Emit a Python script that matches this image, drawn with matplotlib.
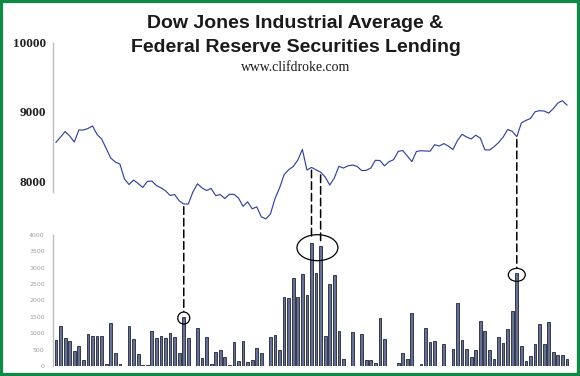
import matplotlib
matplotlib.use('Agg')
import matplotlib.pyplot as plt
import matplotlib.patches as mpatches
import matplotlib.transforms as mtransforms
import numpy as np

# Dow Jones Industrial Average (one value per trading day)
djia = [8561, 8638, 8717, 8652, 8565, 8739, 8739, 8761, 8797, 8674,
        8609, 8471, 8333, 8275, 8246, 8029, 7949, 8014, 7964, 7906,
        7993, 8000, 7935, 7901, 7859, 7791, 7804, 7713, 7667, 7667,
        7841, 7959, 7901, 7862, 7893, 7788, 7804, 7746, 7807, 7807,
        7754, 7633, 7699, 7597, 7626, 7481, 7451, 7522, 7746, 7899,
        8093, 8164, 8210, 8304, 8457, 8159, 8197, 8162, 8128, 8058,
        7942, 8043, 8213, 8188, 8220, 8232, 8212, 8151, 8155, 8188,
        8300, 8297, 8219, 8280, 8309, 8429, 8442, 8362, 8281, 8428,
        8439, 8435, 8432, 8526, 8507, 8542, 8506, 8457, 8587, 8677,
        8638, 8609, 8664, 8622, 8452, 8449, 8496, 8557, 8635, 8746,
        8720, 8642, 8841, 8878, 8906, 9004, 9019, 9014, 8984, 9049,
        9130, 9164, 9101]

# Federal Reserve securities lending (one bar per trading day)
lending = [785, 1225, 855, 755, 470, 620, 195, 970, 920, 920,
           920, 70, 1325, 390, 70, 0, 1215, 835, 355, 20,
           20, 1070, 855, 920, 855, 1010, 890, 410, 1500, 845,
           0, 1165, 235, 880, 70, 420, 480, 285, 40, 745,
           155, 775, 110, 195, 540, 390, 0, 880, 940, 490,
           2110, 2080, 2675, 2110, 2795, 2155, 3765, 2845, 3675, 930,
           2500, 2775, 1060, 205, 0, 1040, 0, 970, 175, 195,
           80, 1480, 825, 0, 0, 80, 410, 215, 1610, 0,
           60, 1155, 735, 775, 0, 665, 0, 510, 1920, 795,
           530, 265, 500, 1380, 1060, 480, 215, 890, 695, 1135,
           1665, 2835, 600, 145, 305, 665, 1285, 675, 1355, 430,
           335, 335, 225]

# days where a DJIA low lines up with a lending spike
circled = [[28], [56, 58], [101]]
lend_ticks = [0, 500, 1000, 1500, 2000, 2500, 3000, 3500, 4000]
djia_ticks = [8000, 9000, 10000]

days = np.arange(len(djia))

fig = plt.figure(figsize=(5.8, 3.76), dpi=100)
fig.patch.set_facecolor('white')

ax_top = fig.add_axes([0.0914, 0.4894, 0.8948, 0.3963])
ax_bot = fig.add_axes([0.0914, 0.0266, 0.8948, 0.3484])

# DJIA line
ax_top.plot(days, djia, color='#34449a', lw=0.85, clip_on=False)
ax_top.set_xlim(-0.66, 113.1)
ax_top.set_ylim(7841, 10000)
ax_top.set_yticks(djia_ticks)
ax_top.set_yticklabels([str(t) for t in djia_ticks],
                       fontfamily='Liberation Serif', fontweight='bold',
                       fontsize=9.5, color='#222222')
ax_top.tick_params(axis='y', length=0, pad=5)
ax_top.set_xticks([])
for s in ['top', 'right', 'bottom']:
    ax_top.spines[s].set_visible(False)
ax_top.spines['left'].set_color('#bdbdbd')
ax_top.spines['left'].set_linewidth(1)
ax_top.patch.set_alpha(0)

# lending bars
ax_bot.bar(days, lending, width=0.6, color='#66708f',
           edgecolor='#20253a', linewidth=0.6)
ax_bot.set_xlim(-0.66, 113.1)
ax_bot.set_ylim(0, 4000)
ax_bot.set_yticks(lend_ticks)
ax_bot.set_yticklabels([str(t) for t in lend_ticks], fontsize=4.5,
                       color='#a0a0a0')
ax_bot.tick_params(axis='y', length=0, pad=6)
ax_bot.set_xticks([])
for s in ['top', 'right', 'bottom']:
    ax_bot.spines[s].set_visible(False)
ax_bot.spines['left'].set_color('#bdbdbd')
ax_bot.spines['left'].set_linewidth(1)
ax_bot.patch.set_alpha(0)

# circles round the spikes and dashed links up to the DJIA lows
sizes = [(0.12, 0.12, -0.012), (0.41, 0.26, -0.05), (0.17, 0.13, -0.017)]
for group, (w, h, dy) in zip(circled, sizes):
    top = max(group, key=lambda i: lending[i])
    cx = np.mean(group) + (0.3 if len(group) > 1 else 0.0)
    trans = fig.dpi_scale_trans + mtransforms.ScaledTranslation(
        cx, lending[top], ax_bot.transData)
    ax_bot.add_patch(mpatches.Ellipse((0, dy), w, h, transform=trans,
                                      fill=False, edgecolor='black',
                                      lw=0.9, clip_on=False))
    for i in group:
        con = mpatches.ConnectionPatch(
            xyA=(i, djia[i]), coordsA=ax_top.transData,
            xyB=(i, lending[i]), coordsB=ax_bot.transData,
            color='black', lw=1.1, linestyle=(0, (5, 2.6)),
            shrinkA=2, shrinkB=3 if len(group) > 1 else 4)
        fig.add_artist(con)

# titles
fig.text(0.5095, 0.9255, 'Dow Jones Industrial Average &',
         ha='center', va='baseline', fontsize=14, fontweight='bold',
         fontfamily='Liberation Sans', color='#1a1a1a')
fig.text(0.5095, 0.8617, 'Federal Reserve Securities Lending',
         ha='center', va='baseline', fontsize=14, fontweight='bold',
         fontfamily='Liberation Sans', color='#1a1a1a')
fig.text(0.5095, 0.812, 'www.clifdroke.com', ha='center', va='baseline',
         fontsize=9.9, fontfamily='Liberation Serif', color='#1a1a1a')

# green frame
fig.patches.append(mpatches.Rectangle((0, 0), 1, 1, transform=fig.transFigure,
                                      fill=False, edgecolor='#0e8a45', lw=4.5))

fig.savefig('out.png', dpi=100)
